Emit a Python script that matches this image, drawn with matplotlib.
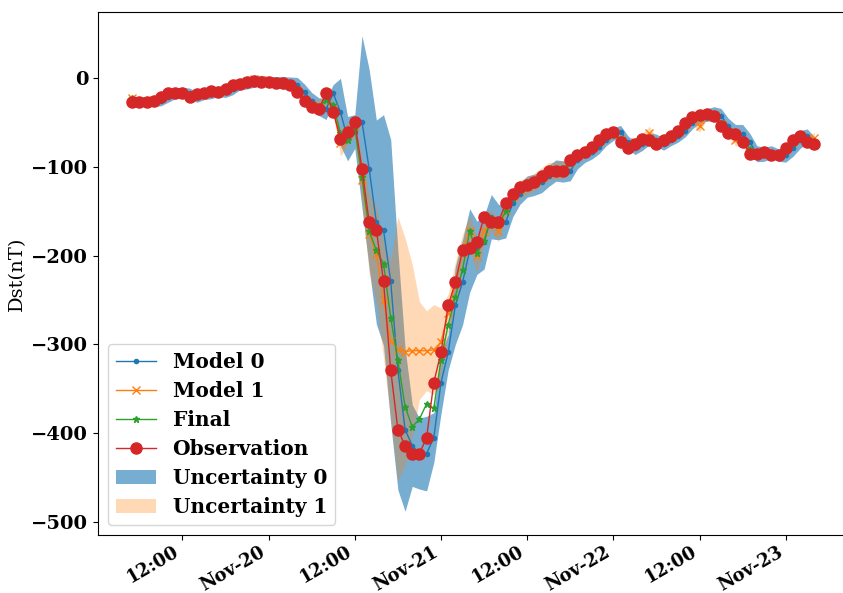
import numpy as np
import pandas as pd
import matplotlib
matplotlib.use("Agg")
import matplotlib.pyplot as plt
import matplotlib.dates as mdates
from matplotlib.ticker import FuncFormatter

plt.rcParams["font.family"] = "DejaVu Serif"

# hourly Dst, 2003-11-19 05:00 to 2003-11-23 04:00
times = pd.date_range("2003-11-19 05:00", periods=96, freq="h")

observation = [-27, -26.5, -26.5, -25, -21, -17, -16, -17, -21, -18,
               -17, -14.5, -15.5, -12.5, -7, -6, -4, -2.5, -4, -4,
               -5, -5.5, -7, -15.5, -26, -32, -34.5, -17, -38, -68,
               -60, -49, -102, -162, -171, -229, -329, -396, -414, -423,
               -423, -405, -343, -309, -256, -230, -194, -191, -185, -156,
               -162, -162, -141, -130, -122, -120, -117, -110, -104, -105,
               -104.5, -92, -86, -83, -77, -69, -63, -60, -71.5, -79,
               -74.5, -68, -70, -74, -69, -65, -59, -50, -43.5, -41.5,
               -40, -42, -54, -62, -63, -72, -85, -85.5, -83, -86.5,
               -86.5, -79, -69, -65, -72, -74]

model0 = [-25, -27, -26.5, -26.5, -25, -21, -17, -16, -17, -21,
          -18, -17, -14.5, -15.5, -12.5, -7, -6, -4, -2.5, -4,
          -4, -5, -5.5, -7, -15.5, -26, -32, -34.5, -17, -38,
          -68, -60, -49, -102, -162, -171, -229, -329, -396, -414,
          -423, -423, -405, -343, -309, -256, -230, -194, -191, -185,
          -156, -162, -162, -141, -130, -122, -120, -117, -110, -104,
          -105, -104.5, -92, -86, -83, -77, -69, -63, -60, -71.5,
          -79, -74.5, -68, -70, -74, -69, -65, -59, -50, -43.5,
          -41.5, -40, -42, -54, -62, -63, -72, -85, -85.5, -83,
          -86.5, -86.5, -79, -69, -65, -72]

model1 = [-22, -25, -25, -24, -21, -18, -16, -16, -19, -18,
          -16, -14, -14, -12, -8, -5, -3, -1, -2, -3,
          -4, -5, -7, -13, -24, -30, -33, -22, -33, -73,
          -63, -54, -115, -175, -198, -250, -296, -305, -308, -307,
          -307, -307, -306, -297, -265, -232, -196, -172, -200, -172,
          -160, -172, -148, -133, -125, -121, -117, -111, -105, -104,
          -103, -94, -88, -83, -78, -71, -64, -62, -68, -76,
          -72, -68, -62, -72, -70, -66, -60, -52, -46, -54,
          -41, -43, -52, -60, -69, -72, -83, -85, -84, -86,
          -86, -80, -71, -66, -70, -67]

final = [-22, -26, -26, -25, -22, -18, -16.5, -16.5, -19, -19,
         -17, -15, -15, -13, -9, -6, -4.5, -3, -3, -4,
         -5, -5.5, -7, -13, -23, -30, -33, -24, -30, -62,
         -69, -56, -111, -172, -194, -209, -270, -318, -370, -393,
         -384, -367, -372, -317, -278, -246, -216, -172, -197, -183,
         -157, -165, -150, -135, -126, -122, -119, -113, -107, -105,
         -105, -96, -89, -85, -80, -72, -66, -61, -68, -77,
         -76, -70, -69, -72, -71, -67, -62, -54, -46, -43,
         -41, -42, -50, -59, -63, -69, -80, -85, -84, -85,
         -86, -82, -73, -66, -69, -72]

# half widths of the uncertainty bands
sigma0 = [5, 5, 5, 5, 6, 6, 6, 6, 6, 6,
          6, 6, 6, 6, 6, 6, 6, 6, 6, 6,
          6, 7, 7, 8, 9, 10, 10, 12, 10, 38,
          25, 19, 97, 112, 115, 130, 160, 135, 92, 46,
          40, 42, 28, 35, 20, 44, 48, 47, 30, 30,
          25, 20, 18, 15, 12, 12, 12, 12, 12, 12,
          12, 11, 10, 9, 8, 8, 7, 7, 7, 7,
          7, 7, 7, 7, 7, 7, 7, 7, 7, 7,
          7, 8, 8, 9, 10, 11, 10, 9, 8, 7,
          7, 8, 9, 10, 8, 6]

sigma1 = [4, 4, 4, 4, 5, 5, 5, 5, 5, 5,
          5, 5, 5, 5, 5, 5, 5, 5, 5, 5,
          5, 5, 5, 6, 7, 7, 8, 8, 8, 15,
          12, 10, 25, 45, 55, 65, 90, 149, 128, 97,
          55, 45, 51, 38, 22, 25, 20, 18, 20, 15,
          12, 12, 10, 10, 10, 10, 10, 10, 10, 10,
          10, 6, 6, 6, 5, 5, 5, 5, 5, 5,
          5, 5, 8, 5, 5, 5, 5, 5, 5, 7,
          5, 5, 5, 5, 7, 5, 5, 5, 5, 5,
          5, 5, 5, 5, 5, 6]

model0 = np.array(model0)
model1 = np.array(model1)
sigma0 = np.array(sigma0)
sigma1 = np.array(sigma1)

fig = plt.figure(figsize=(8.43, 5.93), dpi=100)
ax = fig.add_axes([0.1163, 0.0978, 0.8903, 0.882])

ax.plot(times, model0, marker=".", color="C0", lw=1, label="Model 0")
ax.plot(times, model1, marker="x", color="C1", lw=1, label="Model 1")
ax.plot(times, final, marker="*", color="C2", lw=1, ms=5, label="Final")
ax.plot(times, observation, marker="o", color="C3", lw=1, ms=8, label="Observation")
ax.fill_between(times, model0 - sigma0, model0 + sigma0, color="C0", alpha=0.6,
                lw=0, label="Uncertainty 0")
ax.fill_between(times, model1 - sigma1, model1 + sigma1, color="C1", alpha=0.3,
                lw=0, label="Uncertainty 1")

def date_label(x, pos):
    d = mdates.num2date(x)
    if d.hour == 0:
        return d.strftime("%b-%d")
    return d.strftime("%H:%M")

ax.xaxis.set_major_locator(mdates.HourLocator(byhour=[0, 12]))
ax.xaxis.set_major_formatter(FuncFormatter(date_label))
ax.tick_params(axis="x", pad=2)

ax.set_ylabel("Dst(nT)", fontsize=14)
for lab in ax.get_yticklabels():
    lab.set_fontweight("bold")
    lab.set_fontsize(14)
for lab in ax.get_xticklabels():
    lab.set_fontweight("bold")
    lab.set_fontsize(13)
plt.setp(ax.get_xticklabels(), rotation=30, ha="right")

ax.legend(loc="lower left", prop={"weight": "bold", "size": 14.5}, labelspacing=0.45)

fig.savefig("out.png", dpi=100)
